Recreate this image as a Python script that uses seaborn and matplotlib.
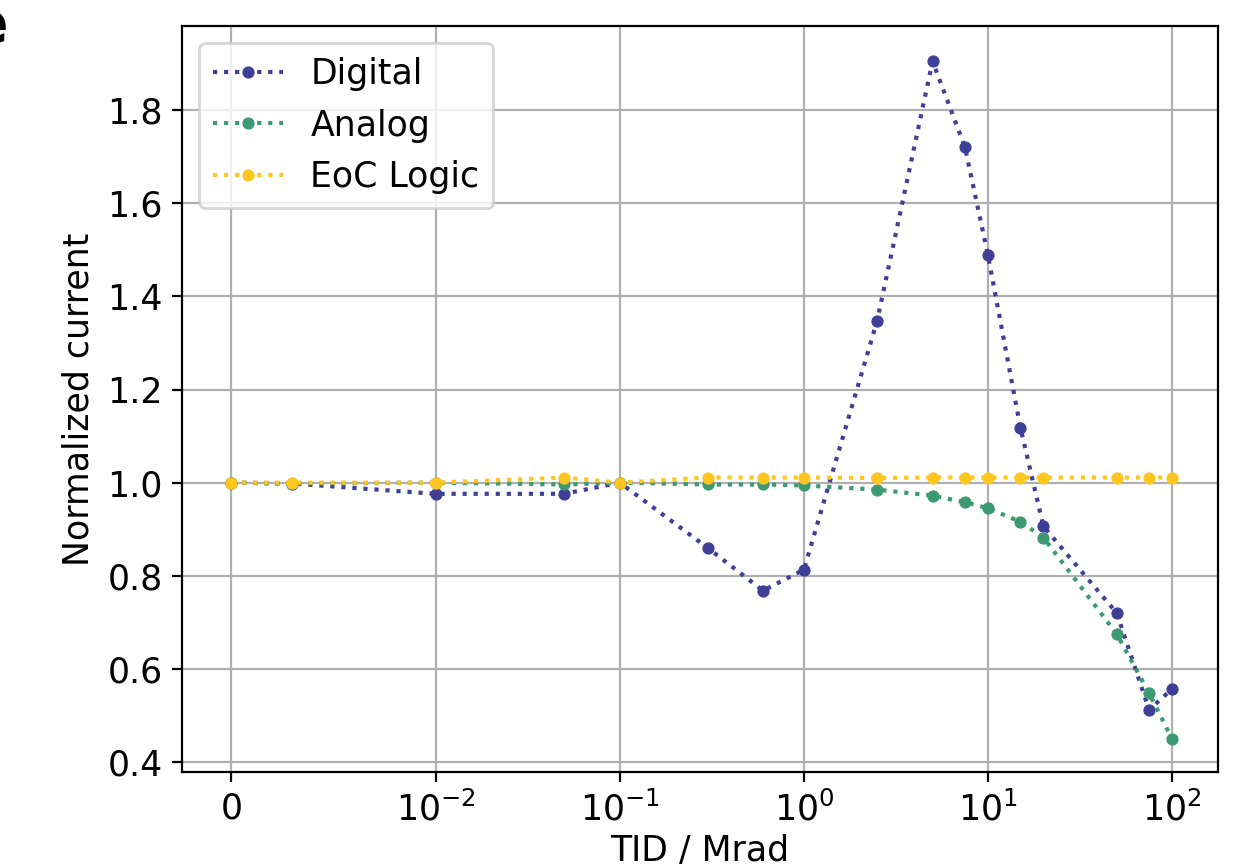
import numpy as np
import pandas as pd
import matplotlib
matplotlib.use("Agg")
import matplotlib.pyplot as plt
import seaborn as sns

# ---- data ----
tid = [0, 0.003, 0.01, 0.05, 0.1, 0.3, 0.6, 1, 2.5, 5, 7.5, 10, 15, 20, 50, 75, 100]
digital = [1.0, 0.998, 0.976, 0.976, 1.0, 0.860, 0.768, 0.813, 1.348, 1.905,
           1.72, 1.488, 1.118, 0.906, 0.72, 0.512, 0.557]
analog = [1.0, 0.998, 1.0, 0.996, 1.0, 0.996, 0.996, 0.994, 0.985, 0.972,
          0.958, 0.945, 0.916, 0.882, 0.675, 0.548, 0.449]
eoc = [1.0, 1.0, 1.0, 1.011, 1.0, 1.011, 1.011, 1.011, 1.01, 1.011,
       1.011, 1.011, 1.011, 1.011, 1.011, 1.011, 1.011]
series_names = ["Digital", "Analog", "EoC Logic"]
series_colors = ["#3f3f98", "#3c9a72", "#fec61e"]

plt.rcParams['font.family'] = ['DejaVu Sans']
plt.rcParams['font.size'] = 12.5

fig = plt.figure(figsize=(6.245, 4.32), dpi=200)
ax = fig.add_axes([0.1457, 0.1065, 0.975 - 0.1457, 0.970 - 0.1065])

for name, vals, col in zip(series_names, [digital, analog, eoc], series_colors):
    df = pd.DataFrame({"TID": tid, "val": vals})
    sns.lineplot(data=df, x="TID", y="val", ax=ax, color=col, linestyle=':',
                 marker='o', markersize=4.0, markeredgewidth=0.4,
                 markeredgecolor=col, linewidth=1.5,
                 label=name, sort=False)

ax.set_xscale('symlog', linthresh=0.01)
ax.set_xlim(-0.0024, 177)
ax.set_ylim(0.3785, 1.981)
ax.set_xticks([0, 1e-2, 1e-1, 1, 10, 100])
ax.set_yticks([0.4, 0.6, 0.8, 1.0, 1.2, 1.4, 1.6, 1.8])
ax.grid(True, color='#b0b0b0', linewidth=0.8)
ax.set_axisbelow(True)
ax.set_xlabel("TID / Mrad", labelpad=2)
ax.set_ylabel("Normalized current")
for s in ax.spines.values():
    s.set_color('black')

leg = ax.legend(loc='upper left', fontsize=12.5)

fig.text(0.0066, 0.950, "e", ha='right', va='baseline', fontsize=21,
         fontweight='bold')

fig.savefig("out.png", dpi=200)
